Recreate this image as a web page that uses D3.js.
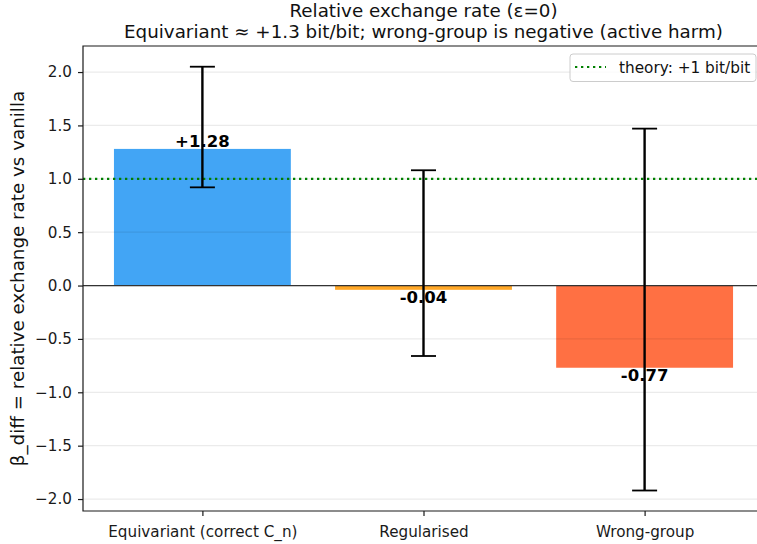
<!DOCTYPE html>
<html><head><meta charset="utf-8">
<script src="https://cdn.jsdelivr.net/npm/d3@7"></script>
<style>body{margin:0;background:#fff}svg{display:block}text{font-family:"DejaVu Sans",sans-serif}</style>
</head><body><svg id="c" width="757" height="544"></svg>
<script>
const categories = ["Equivariant (correct C_n)", "Regularised", "Wrong-group"];
const values = [1.28, -0.04, -0.77];
const errLow = [0.92, -0.66, -1.92];
const errHigh = [2.05, 1.08, 1.47];
const colors = ["#42A5F5", "#FFA726", "#FF7043"];
const yTicks = [-2.0, -1.5, -1.0, -0.5, 0.0, 0.5, 1.0, 1.5, 2.0];
const theory = 1.0;
const titleLines = ["Relative exchange rate (ε=0)", "Equivariant ≈ +1.3 bit/bit; wrong-group is negative (active harm)"];
const yLabel = "β_diff = relative exchange rate vs vanilla";
const legendLabel = "theory: +1 bit/bit";

const svg = d3.select("#c");
const L = 83, R = 764, T = 46, B = 511;
const x = d3.scaleLinear().domain([-0.54, 2.54]).range([L, R]);
const y = d3.scaleLinear().domain([-2.112, 2.244]).range([B, T]);
const bw = x(0.8) - x(0);

// bars
svg.selectAll("rect.bar").data(values).join("rect")
  .attr("x", (d, i) => x(i) - bw / 2)
  .attr("width", bw)
  .attr("y", d => y(Math.max(0, d)))
  .attr("height", d => Math.abs(y(d) - y(0)))
  .attr("fill", (d, i) => colors[i]);

// grid
svg.append("g").selectAll("line").data(yTicks).join("line")
  .attr("x1", L).attr("x2", R).attr("y1", d => y(d)).attr("y2", d => y(d))
  .attr("stroke", "#000").attr("stroke-opacity", 0.08).attr("stroke-width", 1.2);

// zero line
svg.append("line").attr("x1", L).attr("x2", R).attr("y1", y(0)).attr("y2", y(0))
  .attr("stroke", "#333").attr("stroke-width", 1.2);

// theory line
svg.append("line").attr("x1", L).attr("x2", R).attr("y1", y(theory)).attr("y2", y(theory))
  .attr("stroke", "#008000").attr("stroke-width", 2.2).attr("stroke-dasharray", "2.3,3.7");

// error bars
const eg = svg.append("g").attr("stroke", "#000");
categories.forEach((c, i) => {
  const cx = x(i);
  eg.append("line").attr("x1", cx).attr("x2", cx).attr("y1", y(errLow[i])).attr("y2", y(errHigh[i])).attr("stroke-width", 2.4);
  [errLow[i], errHigh[i]].forEach(v => {
    eg.append("line").attr("x1", cx - 12.5).attr("x2", cx + 12.5).attr("y1", y(v)).attr("y2", y(v)).attr("stroke-width", 1.8);
  });
});

// value labels
svg.append("g").selectAll("text").data(values).join("text")
  .attr("x", (d, i) => x(i))
  .attr("y", d => d >= 0 ? y(d) - 2 : y(d) + 12.8)
  .attr("text-anchor", "middle").attr("font-size", 16.5).attr("font-weight", "bold").attr("fill", "#000")
  .text(d => (d >= 0 ? "+" : "") + d.toFixed(2));

// axes
const yAxis = d3.axisLeft(y).tickValues(yTicks).tickSize(5).tickPadding(6)
  .tickFormat(d => d3.format(".1f")(d).replace("-", "−"));
const gy = svg.append("g").attr("transform", `translate(${L},0)`).call(yAxis);
gy.select(".domain").remove();
gy.selectAll("text").attr("font-size", 15.2).attr("fill", "#1a1a1a").style("font-family", "DejaVu Sans");
gy.selectAll("line").attr("stroke", "#1a1a1a").attr("stroke-width", 1.2);

const xAxis = d3.axisBottom(x).tickValues([0, 1, 2]).tickSize(5).tickPadding(5).tickFormat(i => categories[i]);
const gx = svg.append("g").attr("transform", `translate(0,${B})`).call(xAxis);
gx.select(".domain").remove();
gx.selectAll("text").attr("font-size", 15.2).attr("fill", "#1a1a1a").attr("y", 26).attr("dy", 0).style("font-family", "DejaVu Sans");
gx.selectAll("line").attr("stroke", "#1a1a1a").attr("stroke-width", 1.2);

// spines
svg.append("path").attr("d", `M${R},${T}H${L}V${B}H${R}`).attr("fill", "none").attr("stroke", "#1a1a1a").attr("stroke-width", 1.2);

// title
svg.append("g").selectAll("text").data(titleLines).join("text")
  .attr("x", (L + R) / 2).attr("y", (d, i) => 17 + i * 21)
  .attr("text-anchor", "middle").attr("font-size", 18.3).attr("fill", "#111").text(d => d);

// y label
svg.append("text").attr("transform", `translate(24,${(T + B) / 2}) rotate(-90)`)
  .attr("text-anchor", "middle").attr("font-size", 18.3).attr("fill", "#111").text(yLabel);

// legend
const lg = svg.append("g");
lg.append("rect").attr("x", 570).attr("y", 54).attr("width", 186).attr("height", 27.5).attr("rx", 3)
  .attr("fill", "#fff").attr("fill-opacity", 0.8).attr("stroke", "#ccc");
lg.append("line").attr("x1", 575).attr("x2", 606).attr("y1", 67).attr("y2", 67)
  .attr("stroke", "#008000").attr("stroke-width", 2.2).attr("stroke-dasharray", "2.3,3.7");
lg.append("text").attr("x", 619).attr("y", 72.5).attr("font-size", 15.3).attr("fill", "#111").text(legendLabel);
</script></body></html>
